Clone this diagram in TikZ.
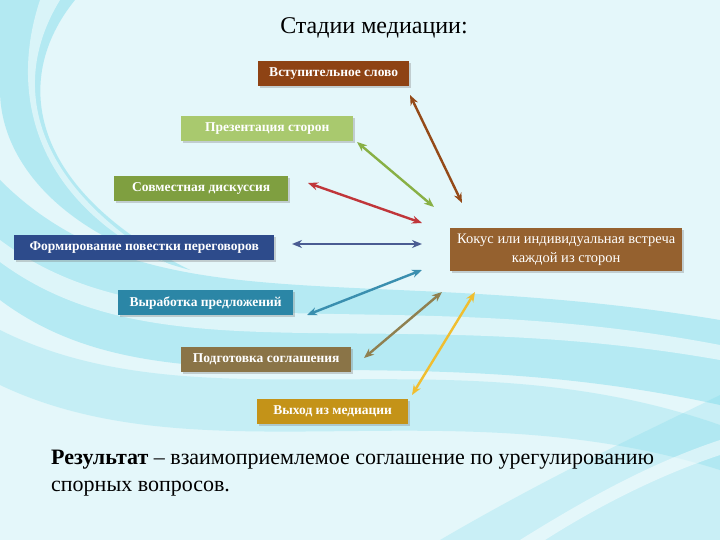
\documentclass[tikz,border=0pt]{standalone}
\usepackage{fontspec}
\setmainfont{Liberation Serif}
\usetikzlibrary{arrows.meta,shadows}
\definecolor{bgbase}{HTML}{E4F7FA}
\definecolor{swoosh}{HTML}{6AD6E8}
\definecolor{cBrown}{HTML}{8E4314}
\definecolor{cLgreen}{HTML}{A9C96E}
\definecolor{cOlive}{HTML}{7F9F40}
\definecolor{cNavy}{HTML}{2D4B8B}
\definecolor{cTeal}{HTML}{2B86A6}
\definecolor{cKhaki}{HTML}{8A7447}
\definecolor{cGold}{HTML}{C49318}
\definecolor{cKocus}{HTML}{95612F}
\definecolor{aRed}{HTML}{C0363A}
\definecolor{aGreen}{HTML}{88B045}
\definecolor{aBlue}{HTML}{4A5C92}
\definecolor{aTeal}{HTML}{3A8FAF}
\definecolor{aKhaki}{HTML}{8F8050}
\definecolor{aGold}{HTML}{F0BE30}
\definecolor{aBrown}{HTML}{944A18}
\tikzset{
  stagebox/.style={draw=none, text=white, font=\bfseries\fontsize{13.5}{15}\selectfont,
    inner sep=0pt, anchor=north west, drop shadow={shadow xshift=1.5pt, shadow yshift=-1.5pt, opacity=.35}},
  conn/.style={{Stealth[length=10pt,width=8pt]}-{Stealth[length=10pt,width=8pt]}, line width=2.4pt}
}
\begin{document}
\begin{tikzpicture}[x=1pt,y=-1pt]
\useasboundingbox (0,0) rectangle (720,540);
% background
\fill[bgbase] (0,0) rectangle (720,540);
\fill[swoosh, opacity=.4] (0,0) -- (75,0) .. controls (10,80) and (30,190) .. (190,270) .. controls (60,235) and (0,160) .. (0,90) -- cycle;
\fill[white, opacity=.5] (40,0) -- (60,0) .. controls (5,90) and (40,190) .. (170,265) .. controls (30,200) and (10,90) .. (40,0) -- cycle;
\fill[swoosh, opacity=.38] (0,180) .. controls (150,330) and (360,260) .. (720,320) -- (720,405) .. controls (380,330) and (160,420) .. (0,300) -- cycle;
\fill[white, opacity=.55] (0,240) .. controls (160,360) and (380,280) .. (720,345) -- (720,360) .. controls (380,300) and (160,380) .. (0,262) -- cycle;
\fill[swoosh, opacity=.25] (0,330) .. controls (200,430) and (450,330) .. (720,425) -- (720,470) .. controls (450,385) and (200,480) .. (0,385) -- cycle;
\fill[swoosh, opacity=.22] (440,540) .. controls (560,470) and (650,430) .. (720,395) -- (720,540) -- cycle;
\fill[white, opacity=.5] (520,540) .. controls (600,490) and (660,460) .. (720,440) -- (720,455) .. controls (660,475) and (600,505) .. (545,540) -- cycle;
% title
\node[font=\fontsize{24}{28}\selectfont, anchor=center] (title) at (374,28) {Стадии медиации:};
% stage boxes
\node[stagebox, fill=cBrown, minimum width=151pt, minimum height=25pt] (s1) at (258,61) {Вступительное слово};
\node[stagebox, fill=cLgreen, minimum width=172pt, minimum height=25pt] (s2) at (181,116) {Презентация сторон};
\node[stagebox, fill=cOlive, minimum width=174pt, minimum height=25pt] (s3) at (114,176) {Совместная дискуссия};
\node[stagebox, fill=cNavy, minimum width=260pt, minimum height=25pt] (s4) at (14,235) {Формирование повестки переговоров};
\node[stagebox, fill=cTeal, minimum width=175pt, minimum height=25pt] (s5) at (118,290) {Выработка предложений};
\node[stagebox, fill=cKhaki, minimum width=170pt, minimum height=25pt] (s6) at (181,347) {Подготовка соглашения};
\node[stagebox, fill=cGold, minimum width=151pt, minimum height=25pt] (s7) at (257,399) {Выход из медиации};
\node[stagebox, fill=cKocus, font=\fontsize{14.5}{19}\selectfont, align=center, minimum width=232pt, minimum height=43pt] (k) at (450,228) {Кокус или индивидуальная встреча\\каждой из сторон};
% arrow end points
\coordinate (a1s) at (410,95);  \coordinate (a1e) at (462,203);
\coordinate (a2s) at (357,142); \coordinate (a2e) at (434,207);
\coordinate (a3s) at (308,183); \coordinate (a3e) at (422,223);
\coordinate (a4s) at (292,244); \coordinate (a4e) at (422,244);
\coordinate (a5s) at (307,315); \coordinate (a5e) at (422,270);
\coordinate (a6s) at (364,358); \coordinate (a6e) at (442,292);
\coordinate (a7s) at (412,395); \coordinate (a7e) at (475,292);
\draw[conn, aBrown] (a1s) -- (a1e);
\draw[conn, aGreen] (a2s) -- (a2e);
\draw[conn, aRed] (a3s) -- (a3e);
\draw[conn, aBlue] (a4s) -- (a4e);
\draw[conn, aTeal] (a5s) -- (a5e);
\draw[conn, aKhaki] (a6s) -- (a6e);
\draw[conn, aGold] (a7s) -- (a7e);
% result
\node[anchor=north west, align=left, font=\fontsize{22}{27}\selectfont, inner sep=0pt] (res) at (51,450)
  {\textbf{Результат} – взаимоприемлемое соглашение по урегулированию\\спорных вопросов.};
\end{tikzpicture}
\end{document}
